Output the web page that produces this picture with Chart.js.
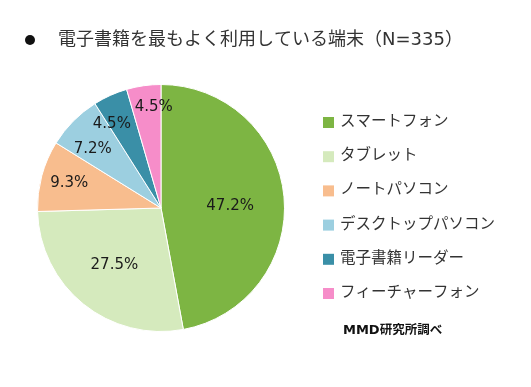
<!DOCTYPE html>
<html>
<head>
<meta charset="utf-8">
<script src="https://cdn.jsdelivr.net/npm/chart.js@4"></script>
<style>
  html, body { margin: 0; padding: 0; background: #ffffff; }
  #wrap { width: 531px; height: 387px; }
</style>
</head>
<body>
<div id="wrap"><canvas id="chartCanvas" width="531" height="387"></canvas></div>
<script>
// data
const titleText = "電子書籍を最もよく利用している端末（N=335）";
const categories = ["スマートフォン", "タブレット", "ノートパソコン", "デスクトップパソコン", "電子書籍リーダー", "フィーチャーフォン"];
const shares = [47.2, 27.5, 9.3, 7.2, 4.5, 4.5];
const sourceText = "MMD研究所調べ";

// look
const sliceColors = ["#7db543", "#d5eabd", "#f8bd8e", "#9ccfe0", "#3a8fa7", "#f68dc9"];
const labelRadius = [0.56, 0.6, 0.77, 0.73, 0.79, 0.82];
const labelAngleShift = [4, 0, 0, -4, -6, 4];
const FONT = "'DejaVu Sans', 'Noto Sans CJK JP', sans-serif";

const overlay = {
    id: "overlay",
    afterDraw(chart) {
        const ctx = chart.ctx;
        const meta = chart.getDatasetMeta(0);

        // title
        ctx.save();
        ctx.fillStyle = "#111";
        ctx.beginPath();
        ctx.arc(30, 40, 5, 0, Math.PI * 2);
        ctx.fill();
        ctx.fillStyle = "#333";
        ctx.font = "18px " + FONT;
        ctx.textBaseline = "middle";
        ctx.fillText(titleText, 58, 40);

        // value labels
        ctx.font = "15px " + FONT;
        ctx.fillStyle = "#1a1a1a";
        ctx.textAlign = "center";
        meta.data.forEach((arc, i) => {
            const mid = (arc.startAngle + arc.endAngle) / 2 + labelAngleShift[i] * Math.PI / 180;
            const r = arc.outerRadius * labelRadius[i];
            ctx.fillText(shares[i].toFixed(1) + "%", arc.x + Math.cos(mid) * r, arc.y + Math.sin(mid) * r);
        });

        // legend
        ctx.textAlign = "left";
        ctx.font = "15.5px " + FONT;
        categories.forEach((c, i) => {
            const y = 122 + i * 34.2;
            ctx.fillStyle = sliceColors[i];
            ctx.fillRect(323, y - 5, 11, 11);
            ctx.fillStyle = "#333";
            ctx.fillText(c, 340, y);
        });

        // source
        ctx.fillStyle = "#111";
        ctx.font = "900 13px " + FONT;
        ctx.fillText("MMD", 343, 331);
        const w = ctx.measureText("MMD").width;
        ctx.font = "bold 12.5px " + FONT;
        ctx.fillText(sourceText.slice(3), 343 + w, 331);
        ctx.restore();
    }
};

new Chart(document.getElementById("chartCanvas").getContext("2d"), {
    type: "pie",
    data: {
        labels: categories,
        datasets: [{
            data: shares,
            backgroundColor: sliceColors,
            borderColor: "#ffffff",
            borderWidth: 1
        }]
    },
    options: {
        responsive: false,
        animation: false,
        layout: { padding: { left: 37, right: 246, top: 84, bottom: 55 } },
        plugins: {
            legend: { display: false },
            tooltip: { enabled: false }
        }
    },
    plugins: [overlay]
});
</script>
</body>
</html>
